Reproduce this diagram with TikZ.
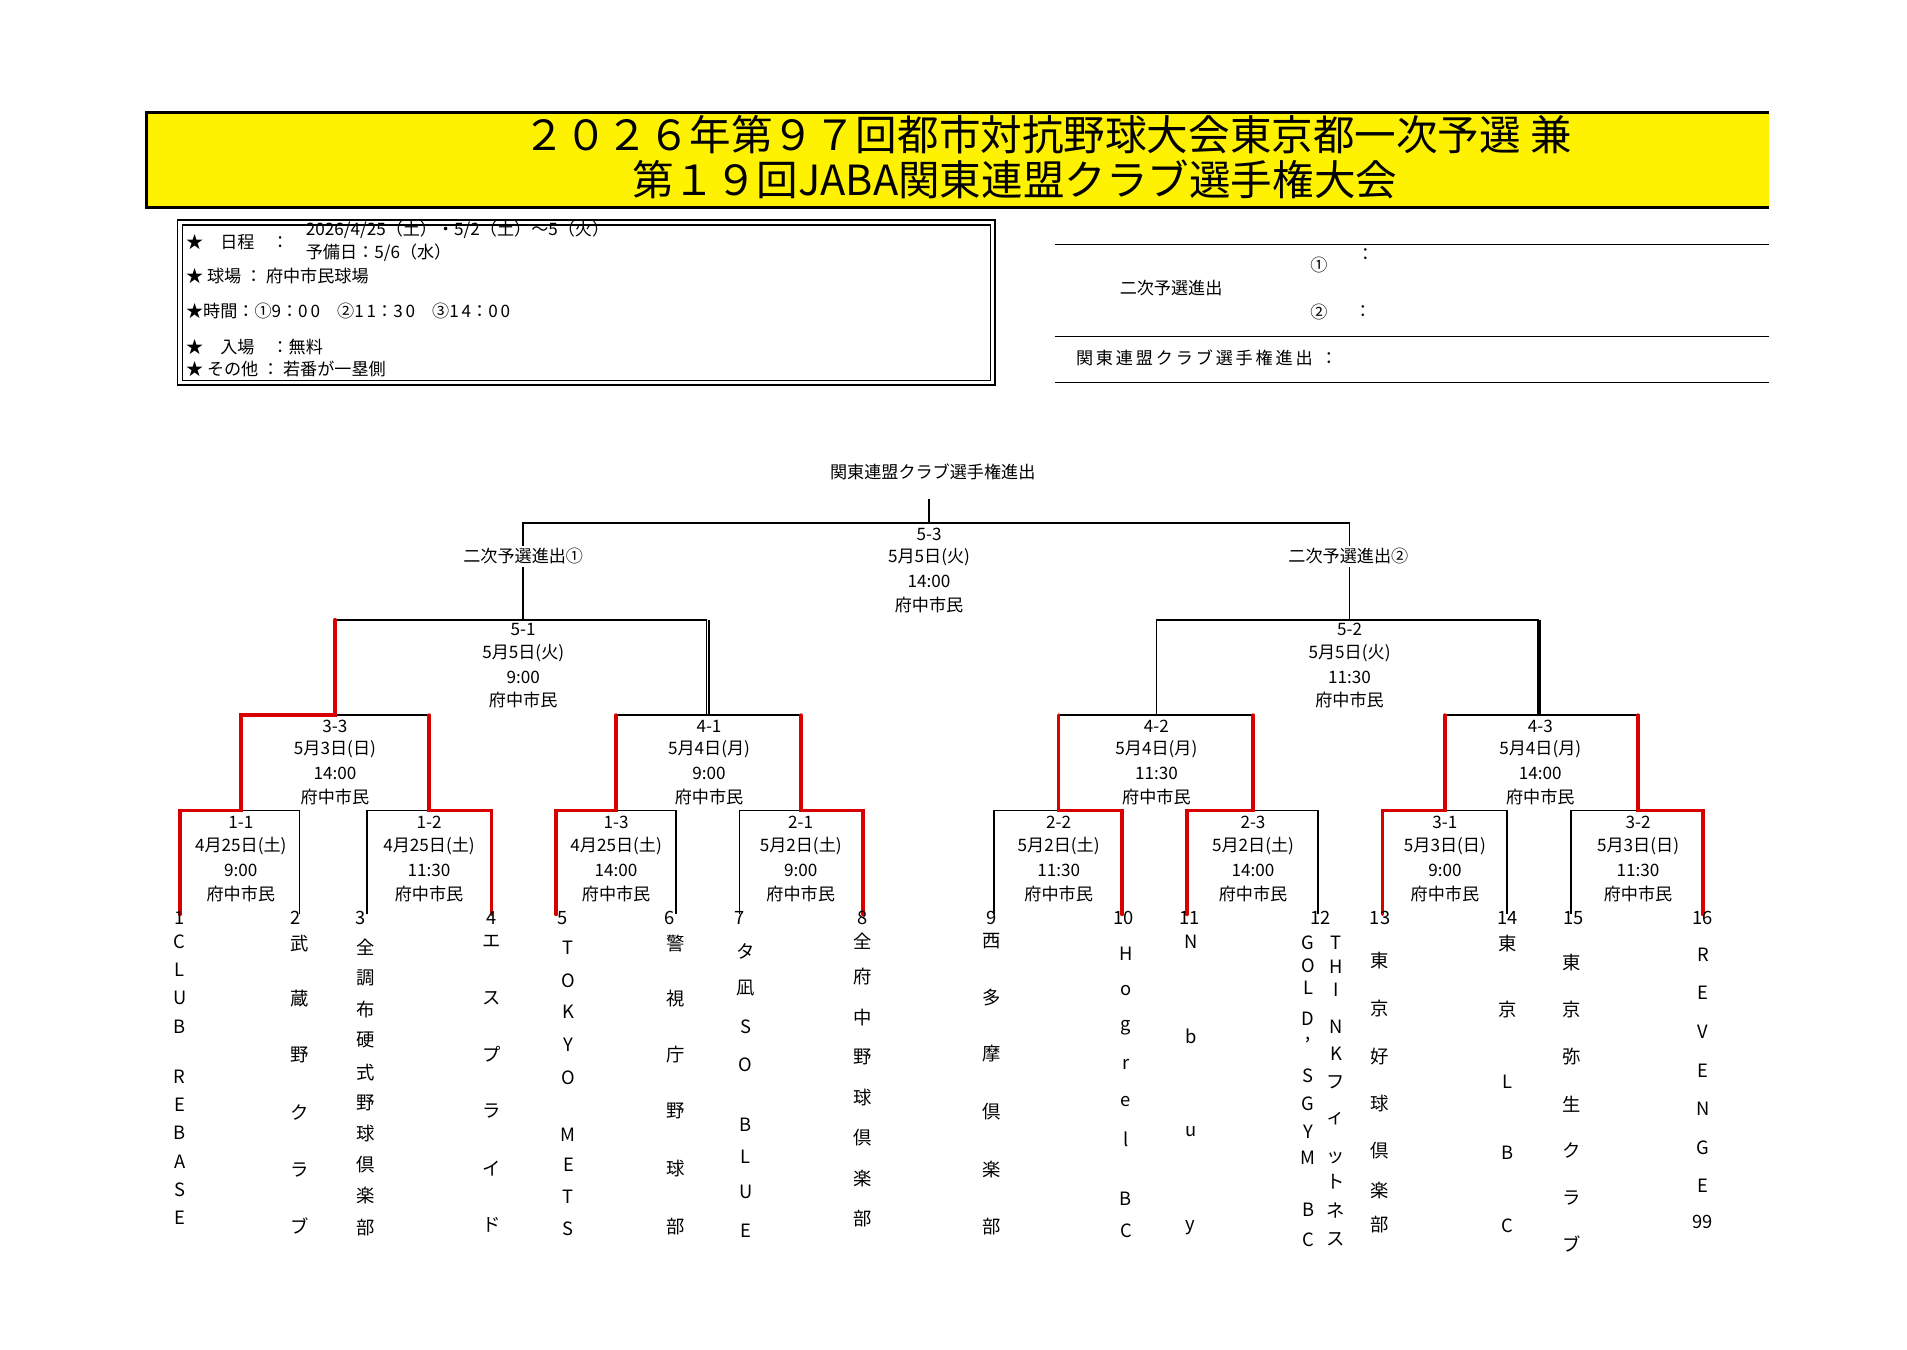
\documentclass[tikz,border=0pt]{standalone}
\usepackage{fontspec}
\setmainfont{Noto Sans CJK JP}
\begin{document}
\begin{tikzpicture}[x=1pt,y=-1pt,
  bk/.style={line width=1.4pt,black},
  rd/.style={line width=3pt,red!85!black,line cap=round},
  lbl/.style={font=\fontsize{14}{16}\selectfont,inner sep=0pt},
  tm/.style={font=\fontsize{15}{16}\selectfont,inner sep=0pt}]
\useasboundingbox (0,0) rectangle (1560,1104);
% title
\fill[yellow] (120,92) rectangle (1447,170);
\draw[line width=2.5pt] (1447,92) -- (120,92) -- (120,170) -- (1447,170);
\node[inner sep=0pt,font=\fontsize{34}{36}\selectfont] (t1) at (857,110) {２０２６年第９７回都市対抗野球大会東京都一次予選 兼};
\node[inner sep=0pt,font=\fontsize{34}{36}\selectfont] (t2) at (830,147) {第１９回JABA関東連盟クラブ選手権大会};
% info box
\draw[line width=1pt] (145,180) rectangle (814,315);
\draw[line width=1pt] (149,184) rectangle (810,311);
\node[lbl,anchor=west] (i1) at (152,198) {★\quad 日程\quad ：};
\node[lbl,anchor=west] (i2) at (250,188) {2026/4/25（土）・5/2（土）～5（火）};
\node[lbl,anchor=west] (i3) at (250,207) {予備日：5/6（水）};
\node[lbl,anchor=west] (i4) at (152,226) {★ 球場 ： 府中市民球場};
\node[lbl,anchor=west] (i5) at (152,254) {★時間：①9：0\,0\quad ②1\,1：3\,0\quad ③1\,4：0\,0};
\node[lbl,anchor=west] (i6) at (152,284) {★\quad 入場\quad ：無料};
\node[lbl,anchor=west] (i7) at (152,302) {★ その他 ： 若番が一塁側};
% right
\draw[line width=1pt] (863,200) -- (1447,200);
\draw[line width=1pt] (863,275) -- (1447,275);
\draw[line width=1pt] (863,313) -- (1447,313);
\node[lbl] (r1) at (958,236) {二次予選進出};
\node[lbl] (r2) at (1079,217) {①};
\node[lbl] (r3) at (1117,208) {：};
\node[lbl] (r4) at (1079,255) {②};
\node[lbl] (r5) at (1115,255) {：};
\node[lbl,anchor=west] (r6) at (880,293) {関\,東\,連\,盟\,ク\,ラ\,ブ\,選\,手\,権\,進\,出\ \ ：};
% bracket black
\foreach \a/\b in {147/245,300/402,455/553,605/706,813/918,971/1078,1131/1233,1285/1393}{
  \draw[bk] (\a,748) -- (\a,663) -- (\b,663) -- (\b,748);}
\foreach \a/\b in {197/351,504/655,866/1025,1182/1340}{
  \draw[bk] (\a,663) -- (\a,585) -- (\b,585) -- (\b,663);}
\draw[bk] (274,585) -- (274,507) -- (578,507) -- (578,585);
\draw[bk] (580,585) -- (580,507);
\draw[bk] (946,585) -- (946,507) -- (1258,507) -- (1258,585);
\draw[bk] (1260,585) -- (1260,507);
\draw[bk] (428,507) -- (428,428) -- (1104,428) -- (1104,507);
\draw[bk] (760,428) -- (760,408);
% red
\draw[rd] (147,748) -- (147,663) -- (197,663) -- (197,585) -- (274,585) -- (274,507);
\draw[rd] (402,748) -- (402,663) -- (351,663) -- (351,585);
\draw[rd] (455,748) -- (455,663) -- (504,663) -- (504,585);
\draw[rd] (706,748) -- (706,663) -- (655,663) -- (655,585);
\draw[rd] (918,748) -- (918,663) -- (866,663) -- (866,585);
\draw[rd] (971,748) -- (971,663) -- (1025,663) -- (1025,585);
\draw[rd] (1131,748) -- (1131,663) -- (1182,663) -- (1182,585);
\draw[rd] (1393,748) -- (1393,663) -- (1340,663) -- (1340,585);
% match labels
\foreach \x/\y/\n/\d/\t in {
 197/673/1-1/4月25日(土)/9:00, 351/673/1-2/4月25日(土)/11:30,
 504/673/1-3/4月25日(土)/14:00, 655/673/2-1/5月2日(土)/9:00,
 866/673/2-2/5月2日(土)/11:30, 1025/673/2-3/5月2日(土)/14:00,
 1182/673/3-1/5月3日(日)/9:00, 1340/673/3-2/5月3日(日)/11:30,
 274/594/3-3/5月3日(日)/14:00, 580/594/4-1/5月4日(月)/9:00,
 946/594/4-2/5月4日(月)/11:30, 1260/594/4-3/5月4日(月)/14:00,
 428/515/5-1/5月5日(火)/9:00, 1104/515/5-2/5月5日(火)/11:30,
 760/437/5-3/5月5日(火)/14:00}{
  \node[lbl,fill=white,inner sep=1pt] at (\x,\y) {\n};
  \node[lbl] at (\x,\y+19) {\d};
  \node[lbl] at (\x,\y+39) {\t};
  \node[lbl] at (\x,\y+58) {府中市民};}
\node[lbl] (top) at (763,386) {関東連盟クラブ選手権進出};
\node[lbl,fill=white,inner sep=2pt] (s1) at (428,455) {二次予選進出①};
\node[lbl,fill=white,inner sep=2pt] (s2) at (1103,455) {二次予選進出②};
% seed numbers
\foreach \x/\n in {147/1,242/2,295/3,402/4,460/5,548/6,605/7,706/8,811/9,919/10,973/11,1080/12,1129/13,1233/14,1287/15,1393/16}{
  \node[tm] at (\x,751) {\n};}
% teams
\foreach \c/\y in {C/770,L/793,U/816,B/840,R/881,E/904,B/927,A/950,S/973,E/996} \node[tm] at (147,\y) {\c};
\foreach \c/\y in {武/772,蔵/817,野/863,ク/910,ラ/957,ブ/1003} \node[tm] at (245,\y) {\c};
\foreach \c/\y in {全/775,調/800,布/826,硬/851,式/877,野/902,球/927,倶/953,楽/978,部/1004} \node[tm] at (299,\y) {\c};
\foreach \c/\y in {エ/770,ス/817,プ/862,ラ/909,イ/956,ド/1002} \node[tm] at (402,\y) {\c};
\foreach \c/\y in {T/775,O/802,K/828,Y/855,O/882,M/928,E/953,T/979,S/1005} \node[tm] at (465,\y) {\c};
\foreach \c/\y in {警/772,視/817,庁/863,野/909,球/956,部/1003} \node[tm] at (553,\y) {\c};
\foreach \c/\y in {タ/778,凪/808,S/840,O/871,B/920,L/946,U/975,E/1007} \node[tm] at (610,\y) {\c};
\foreach \c/\y in {全/770,府/799,中/832,野/865,球/898,倶/931,楽/964,部/997} \node[tm] at (706,\y) {\c};
\foreach \c/\y in {西/770,多/816,摩/862,倶/909,楽/957,部/1003} \node[tm] at (811,\y) {\c};
\foreach \c/\y in {H/780,o/810,g/841,r/871,e/901,l/932,B/981,C/1007} \node[tm] at (921,\y) {\c};
\foreach \c/\y in {N/770,b/848,u/926,y/1004} \node[tm] at (974,\y) {\c};
\foreach \c/\y in {G/771,O/790,L/808,D/833,{,}/851,S/880,G/903,Y/926,M/947,B/990,C/1014} \node[tm] at (1070,\y) {\c};
\foreach \c/\y in {T/771,H/791,I/810,N/840,K/862,フ/885,ィ/915,ッ/947,ト/967,ネ/990,ス/1014} \node[tm] at (1093,\y) {\c};
\foreach \c/\y in {東/786,京/825,好/864,球/903,倶/941,楽/974,部/1002} \node[tm] at (1129,\y) {\c};
\foreach \c/\y in {東/772,京/826,L/885,B/943,C/1003} \node[tm] at (1233,\y) {\c};
\foreach \c/\y in {東/787,京/826,弥/864,生/903,ク/941,ラ/980,ブ/1018} \node[tm] at (1286,\y) {\c};
\foreach \c/\y in {R/781,E/812,V/844,E/876,N/907,G/939,E/970,99/1000} \node[tm] at (1393,\y) {\c};
\end{tikzpicture}
\end{document}
